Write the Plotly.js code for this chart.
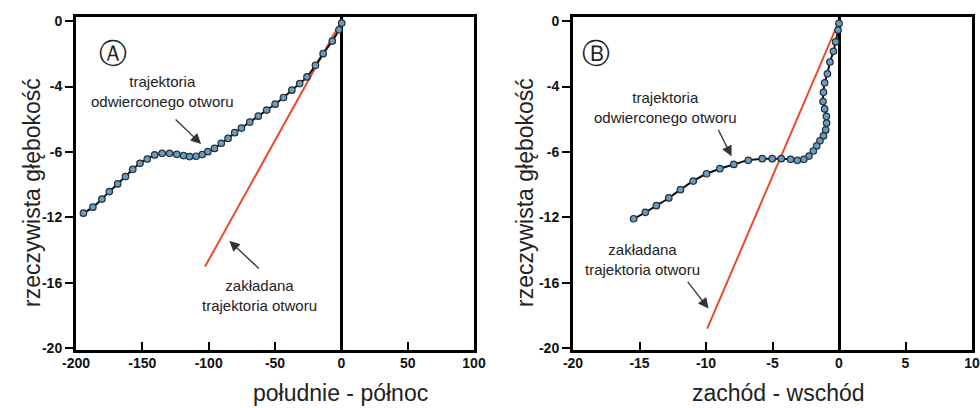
<!DOCTYPE html>
<html>
<head>
<meta charset="utf-8">
<script src="https://cdn.plot.ly/plotly-3.0.1.min.js"></script>
<style>
html,body{margin:0;padding:0;background:#fff;}
#chart{width:980px;height:408px;}
</style>
</head>
<body>
<div id="chart"></div>
<script>
// Panel A: south-north (actual drilled trajectory)
var drilledA_x = [-194.4, -187.3, -180.5, -174.9, -168.6, -162.7, -157.2, -151.8, -146.3, -140.7, -135.1, -129.5, -124.0, -118.9, -114.4, -109.5, -104.9, -100.6, -95.6, -90.5, -85.4, -80.4, -75.3, -69.0, -62.6, -56.3, -49.9, -43.6, -37.3, -31.4, -25.9, -19.5, -13.7, -6.8, -1.8, 0.3];
var drilledA_y = [-11.74, -11.37, -10.88, -10.42, -9.95, -9.50, -9.06, -8.69, -8.43, -8.18, -8.08, -8.08, -8.14, -8.22, -8.28, -8.26, -8.16, -7.98, -7.78, -7.47, -7.17, -6.82, -6.54, -6.17, -5.81, -5.44, -5.08, -4.67, -4.22, -3.82, -3.41, -2.70, -1.99, -1.22, -0.53, -0.12];
var plannedA_x = [0, -102.7];
var plannedA_y = [0, -15.0];

// Panel B: west-east
var drilledB_x = [0.0, -0.07, -0.25, -0.42, -0.68, -0.87, -1.08, -1.17, -1.20, -1.08, -0.95, -0.93, -1.0, -1.17, -1.43, -1.68, -1.93, -2.26, -2.64, -3.13, -3.64, -4.34, -5.02, -5.77, -6.82, -7.91, -8.96, -9.96, -10.96, -11.92, -12.80, -13.73, -14.56, -15.44];
var drilledB_y = [-0.14, -0.55, -1.27, -1.85, -2.50, -3.22, -3.77, -4.35, -4.92, -5.37, -5.82, -6.23, -6.65, -7.02, -7.32, -7.63, -7.94, -8.25, -8.45, -8.51, -8.45, -8.41, -8.41, -8.41, -8.51, -8.76, -9.02, -9.33, -9.78, -10.30, -10.81, -11.28, -11.69, -12.08];
var plannedB_x = [0, -9.91];
var plannedB_y = [0, -18.8];

// Axis ticks
var yTickVals = [0, -4, -8, -12, -16, -20];
var yTickText = ["0", "-4", "-6", "-12", "-16", "-20"];
var xTickValsA = [-200, -150, -100, -50, 0, 50, 100];
var xTickTextA = ["-200", "-150", "-100", "-50", "0", "50", "100"];
var xTickValsB = [-20, -15, -10, -5, 0, 5, 10];
var xTickTextB = ["-20", "-15", "-10", "-5", "0", "5", "10"];

var FONT = "Liberation Sans, Arial, sans-serif";
var markerStyle = {size: 6.5, color: "#6b9cc0", line: {color: "#23323c", width: 1.2}};

var traces = [
  {x: plannedA_x, y: plannedA_y, xaxis: "x", yaxis: "y", mode: "lines", line: {color: "#ea4a2c", width: 2}},
  {x: drilledA_x, y: drilledA_y, xaxis: "x", yaxis: "y", mode: "lines+markers", line: {color: "#111", width: 2, shape: "spline"}, marker: markerStyle},
  {x: plannedB_x, y: plannedB_y, xaxis: "x2", yaxis: "y2", mode: "lines", line: {color: "#ea4a2c", width: 2}},
  {x: drilledB_x, y: drilledB_y, xaxis: "x2", yaxis: "y2", mode: "lines+markers", line: {color: "#111", width: 2, shape: "spline"}, marker: markerStyle}
];

function xAxis(domain, range, vals, text, anchor) {
  return {
    domain: domain, range: range, anchor: anchor,
    tickmode: "array", tickvals: vals, ticktext: text,
    showgrid: false, zeroline: true, zerolinecolor: "#000", zerolinewidth: 3,
    showline: true, mirror: true, linecolor: "#000", linewidth: 3,
    ticks: "inside", ticklen: 8, tickwidth: 2, tickcolor: "#000",
    ticklabelstandoff: -2,
    tickfont: {family: FONT, size: 14, color: "#111", weight: "bold"}
  };
}
function yAxis(anchor) {
  return {
    domain: [0.1422, 0.9583], range: [-20.1, 0.25], anchor: anchor,
    tickmode: "array", tickvals: yTickVals, ticktext: yTickText,
    showgrid: false, zeroline: false,
    showline: true, mirror: true, linecolor: "#000", linewidth: 3,
    ticks: "outside", ticklen: 8, tickwidth: 2, tickcolor: "#000",
    tickfont: {family: FONT, size: 14, color: "#111", weight: "bold"}
  };
}

var txt = {family: FONT, size: 15, color: "#222"};
var ttl = {family: FONT, size: 23, color: "#222"};

var annotations = [
  // panel labels
  {xref: "paper", yref: "paper", x: 97/980, y: 1 - 35/408, text: "Ⓐ", showarrow: false, font: {family: "DejaVu Sans", size: 28, color: "#222"}},
  {xref: "paper", yref: "paper", x: 596/980, y: 1 - 35/408, text: "Ⓑ", showarrow: false, font: {family: "DejaVu Sans", size: 28, color: "#222"}},
  // axis titles
  {xref: "paper", yref: "paper", x: 17/980, y: 1 - 193/408, text: "rzeczywista głębokość", textangle: -90, showarrow: false, font: ttl},
  {xref: "paper", yref: "paper", x: 525/980, y: 1 - 193/408, text: "rzeczywista głębokość", textangle: -90, showarrow: false, font: ttl},
  {xref: "paper", yref: "paper", x: 340/980, y: 0, yanchor: "bottom", text: "południe - północ", showarrow: false, font: ttl},
  {xref: "paper", yref: "paper", x: 867/980, y: 0, yanchor: "bottom", text: "zachód - wschód", showarrow: false, font: ttl},
  // panel A labels
  {xref: "x", yref: "y", x: -134.6, y: -4.32, text: "trajektoria<br>odwierconego otworu", showarrow: false, font: txt},
  {xref: "x", yref: "y", x: -61.6, y: -16.77, text: "zakładana<br>trajektoria otworu", showarrow: false, font: txt},
  {xref: "x", yref: "y", x: -105.7, y: -7.51, ax: -27, ay: -26, text: "", showarrow: true, arrowhead: 2, arrowsize: 1.6, arrowwidth: 1.3, arrowcolor: "#333"},
  {xref: "x", yref: "y", x: -84.4, y: -13.43, ax: 31, ay: 29, text: "", showarrow: true, arrowhead: 2, arrowsize: 1.6, arrowwidth: 1.3, arrowcolor: "#333"},
  // panel B labels
  {xref: "x2", yref: "y2", x: -13.05, y: -5.25, text: "trajektoria<br>odwierconego otworu", showarrow: false, font: txt},
  {xref: "x2", yref: "y2", x: -14.8, y: -14.54, text: "zakładana<br>trajektoria otworu", showarrow: false, font: txt},
  {xref: "x2", yref: "y2", x: -8.08, y: -8.26, ax: -14, ay: -28, text: "", showarrow: true, arrowhead: 2, arrowsize: 1.6, arrowwidth: 1.3, arrowcolor: "#333"},
  {xref: "x2", yref: "y2", x: -9.81, y: -17.56, ax: -22, ay: -28, text: "", showarrow: true, arrowhead: 2, arrowsize: 1.6, arrowwidth: 1.3, arrowcolor: "#333"}
];

var layout = {
  width: 980, height: 408,
  margin: {l: 0, r: 0, t: 0, b: 0},
  paper_bgcolor: "#fff", plot_bgcolor: "#fff",
  showlegend: false,
  font: {family: FONT, color: "#222"},
  xaxis: xAxis([76/980, 474/980], [-200, 100], xTickValsA, xTickTextA, "y"),
  yaxis: yAxis("x"),
  xaxis2: xAxis([573/980, 972/980], [-20, 10], xTickValsB, xTickTextB, "y2"),
  yaxis2: yAxis("x2"),
  annotations: annotations
};

Plotly.newPlot("chart", traces, layout, {displayModeBar: false, staticPlot: true});
</script>
</body>
</html>
